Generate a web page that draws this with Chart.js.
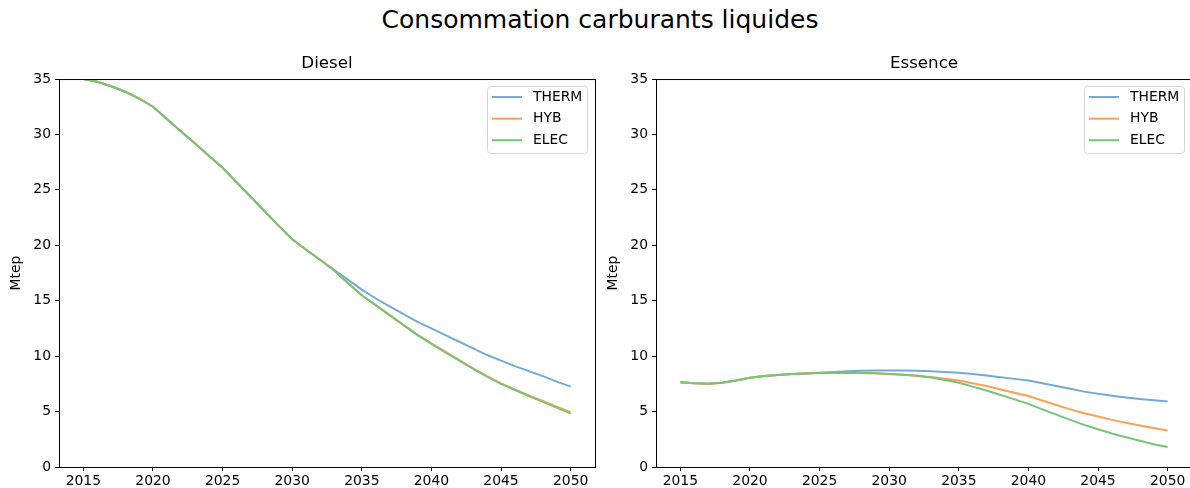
<!DOCTYPE html>
<html>
<head>
<meta charset="utf-8">
<script src="https://cdn.jsdelivr.net/npm/chart.js@4/dist/chart.umd.min.js"></script>
<style>
  html, body { margin: 0; padding: 0; background: #fff; }
  body { width: 1190px; height: 488px; position: relative; overflow: hidden; font-family: "DejaVu Sans", sans-serif; }
  #suptitle { position: absolute; left: 0; top: 4px; width: 1200px; text-align: center; font-size: 25px; line-height: 32px; color: #000; }
  .panel { position: absolute; top: 0; width: 600px; height: 488px; }
</style>
</head>
<body>
<div id="suptitle">Consommation carburants liquides</div>
<div class="panel" style="left:0"><canvas id="diesel" width="600" height="488"></canvas></div>
<div class="panel" style="left:597px"><canvas id="essence" width="600" height="488"></canvas></div>
<script>
// --- data ---
const years = [2015, 2016, 2017, 2018, 2019, 2020, 2021, 2022, 2023, 2024, 2025, 2026,
    2027, 2028, 2029, 2030, 2031, 2032, 2033, 2034, 2035, 2036, 2037, 2038,
    2039, 2040, 2041, 2042, 2043, 2044, 2045, 2046, 2047, 2048, 2049, 2050];
const seriesLabels = ['THERM', 'HYB', 'ELEC'];
const xTicks = [2015, 2020, 2025, 2030, 2035, 2040, 2045, 2050];

const dieselTherm = [35.0, 34.75, 34.35, 33.85, 33.25, 32.5, 31.4, 30.3, 29.2, 28.1, 27.0, 25.7,
    24.4, 23.1, 21.8, 20.55, 19.6, 18.7, 17.8, 16.9, 16.0, 15.2, 14.5, 13.8,
    13.1, 12.5, 11.9, 11.3, 10.7, 10.1, 9.6, 9.1, 8.65, 8.2, 7.7, 7.25];
const dieselHyb = [35.0, 34.75, 34.35, 33.85, 33.25, 32.5, 31.4, 30.3, 29.2, 28.1, 27.0, 25.7,
    24.4, 23.1, 21.8, 20.55, 19.6, 18.7, 17.75, 16.6, 15.5, 14.6, 13.7, 12.8,
    11.95, 11.15, 10.4, 9.65, 8.9, 8.2, 7.55, 7.0, 6.45, 5.95, 5.45, 4.95];
const dieselElec = [35.0, 34.75, 34.35, 33.85, 33.25, 32.5, 31.4, 30.3, 29.2, 28.1, 27.0, 25.7,
    24.4, 23.1, 21.8, 20.55, 19.6, 18.7, 17.75, 16.6, 15.5, 14.6, 13.7, 12.8,
    11.9, 11.1, 10.35, 9.6, 8.85, 8.15, 7.5, 6.95, 6.4, 5.88, 5.35, 4.82];

const essenceTherm = [7.65, 7.55, 7.52, 7.6, 7.8, 8.05, 8.2, 8.3, 8.38, 8.44, 8.5, 8.58,
    8.64, 8.68, 8.7, 8.71, 8.7, 8.68, 8.64, 8.58, 8.5, 8.4, 8.26, 8.1,
    7.95, 7.8, 7.55, 7.3, 7.05, 6.8, 6.6, 6.43, 6.28, 6.14, 6.02, 5.9];
const essenceHyb = [7.65, 7.55, 7.52, 7.6, 7.8, 8.05, 8.2, 8.3, 8.38, 8.44, 8.47, 8.49,
    8.5, 8.48, 8.45, 8.4, 8.33, 8.24, 8.12, 7.97, 7.8, 7.56, 7.3, 7.0,
    6.7, 6.4, 6.0, 5.6, 5.2, 4.85, 4.55, 4.25, 4.0, 3.75, 3.52, 3.3];
const essenceElec = [7.65, 7.55, 7.52, 7.6, 7.8, 8.05, 8.2, 8.3, 8.38, 8.44, 8.47, 8.49,
    8.5, 8.48, 8.45, 8.4, 8.33, 8.24, 8.08, 7.85, 7.6, 7.25, 6.9, 6.5,
    6.1, 5.7, 5.2, 4.72, 4.25, 3.8, 3.4, 3.02, 2.68, 2.36, 2.06, 1.8];

// light tab10 colours, opaque so the last series covers the others where they overlap
const colors = ['rgb(115,170,212)', 'rgb(255,160,85)', 'rgb(120,195,120)'];
const FONT = '"DejaVu Sans", sans-serif';

/**
 * Draws the four spines around the plot area.
 */
const frame = {
    id: 'frame',
    afterDraw(chart) {
        const { ctx, chartArea: a } = chart;
        ctx.save();
        ctx.strokeStyle = '#000';
        ctx.lineWidth = 1;
        ctx.strokeRect(a.left + 0.5, a.top + 0.5, a.right - a.left, a.bottom - a.top);
        ctx.restore();
    }
};

/**
 * Legend in the upper right corner, inside the axes.
 */
const insideLegend = {
    id: 'insideLegend',
    afterDraw(chart) {
        const { ctx, chartArea: a } = chart;
        const w = 100, h = 67;
        const x = Math.round(a.right - 8 - w), y = a.top + 7;
        ctx.save();
        ctx.beginPath();
        ctx.roundRect(x + 0.5, y + 0.5, w, h, 3);
        ctx.fillStyle = 'rgba(255,255,255,0.8)';
        ctx.fill();
        ctx.strokeStyle = '#d4d4d4';
        ctx.stroke();
        ctx.font = '13.9px ' + FONT;
        ctx.textBaseline = 'middle';
        chart.data.datasets.forEach((ds, i) => {
            const cy = y + 11 + i * 21.6;
            ctx.strokeStyle = ds.borderColor;
            ctx.lineWidth = 2;
            ctx.beginPath();
            ctx.moveTo(x + 5, cy);
            ctx.lineTo(x + 35, cy);
            ctx.stroke();
            ctx.fillStyle = '#000';
            ctx.fillText(ds.label, x + 46, cy);
        });
        ctx.restore();
    }
};

const makeChart = (id, title, values) => {
    const ctx = document.getElementById(id).getContext('2d');
    return new Chart(ctx, {
        type: 'line',
        data: {
            datasets: values.map((vals, i) => ({
                label: seriesLabels[i],
                data: years.map((yr, j) => ({ x: yr, y: vals[j] })),
                borderColor: colors[i],
                borderWidth: 2,
                pointRadius: 0,
                tension: 0,
                fill: false,
                order: values.length - i // draw ELEC last, as matplotlib does
            }))
        },
        options: {
            responsive: false,
            animation: false,
            devicePixelRatio: 1,
            layout: { padding: { top: 54, right: 5, bottom: 0, left: 0 } },
            plugins: {
                legend: { display: false },
                tooltip: { enabled: false },
                title: {
                    display: true,
                    text: title,
                    fullSize: false,
                    color: '#000',
                    font: { family: FONT, size: 16.7, weight: 'normal' },
                    padding: { top: 0, bottom: 5 }
                }
            },
            scales: {
                x: {
                    type: 'linear',
                    min: 2013.25,
                    max: 2051.75,
                    afterBuildTicks: (scale) => { scale.ticks = xTicks.map(v => ({ value: v })); },
                    afterFit: (scale) => { scale.height = 21; },
                    border: { display: false },
                    grid: { drawOnChartArea: false, drawTicks: true, tickLength: 4, color: '#000' },
                    ticks: {
                        autoSkip: false,
                        maxRotation: 0,
                        padding: 2,
                        color: '#000',
                        font: { family: FONT, size: 13.9 },
                        callback: (v) => String(v)
                    }
                },
                y: {
                    min: 0,
                    max: 35,
                    afterFit: (scale) => { scale.width = 59; },
                    border: { display: false },
                    grid: { drawOnChartArea: false, drawTicks: true, tickLength: 4, color: '#000' },
                    ticks: {
                        stepSize: 5,
                        padding: 4,
                        color: '#000',
                        font: { family: FONT, size: 13.9 }
                    },
                    title: {
                        display: true,
                        text: 'Mtep',
                        color: '#000',
                        font: { family: FONT, size: 13.9 },
                        padding: { top: 8, bottom: 0 }
                    }
                }
            }
        },
        plugins: [frame, insideLegend]
    });
};

makeChart('diesel', 'Diesel', [dieselTherm, dieselHyb, dieselElec]);
makeChart('essence', 'Essence', [essenceTherm, essenceHyb, essenceElec]);
</script>
</body>
</html>
